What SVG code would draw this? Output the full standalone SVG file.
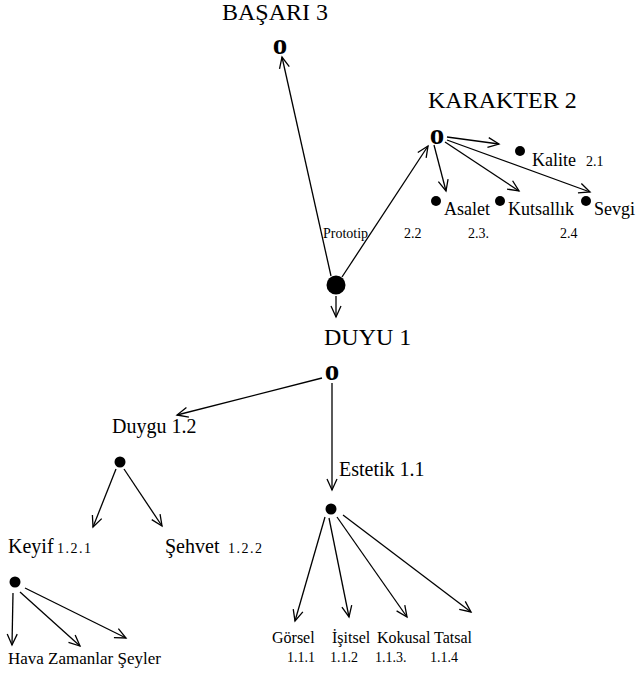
<svg xmlns="http://www.w3.org/2000/svg" width="644" height="674" viewBox="0 0 644 674">
<style>
.h{font-size:24px}
.m{font-size:20px}
.l{font-size:18px}
.s{font-size:14px}
.t{font-size:16px}
.o{font-size:29px;font-weight:bold;text-anchor:middle}
.c line{stroke:#000;stroke-width:1.3;marker-end:url(#a)}
</style>
<defs>
<marker id="a" markerUnits="userSpaceOnUse" markerWidth="14" markerHeight="12" viewBox="-12 -6 14 12" refX="0" refY="0" orient="auto">
<path d="M-11,-5 L0,0 L-11,5" fill="none" stroke="#000" stroke-width="1.3"/>
</marker>
</defs>
<rect width="644" height="674" fill="#fff"/>
<g class="c" id="connectors">
<line x1="331" y1="276" x2="282" y2="57"/>
<line x1="342" y1="277" x2="428" y2="146"/>
<line x1="336" y1="296" x2="336" y2="317"/>
<line x1="447" y1="137" x2="499" y2="144"/>
<line x1="434" y1="145" x2="446" y2="191"/>
<line x1="445" y1="142" x2="519" y2="191"/>
<line x1="447" y1="140" x2="590" y2="192"/>
<line x1="322" y1="378" x2="177" y2="415"/>
<line x1="332" y1="383" x2="332" y2="490"/>
<line x1="116" y1="469" x2="93" y2="527"/>
<line x1="124" y1="469" x2="162" y2="526"/>
<line x1="325" y1="517" x2="295" y2="621"/>
<line x1="329" y1="518" x2="349" y2="617"/>
<line x1="337" y1="517" x2="407" y2="617"/>
<line x1="343" y1="515" x2="471" y2="612"/>
<line x1="13" y1="593" x2="12" y2="645"/>
<line x1="20" y1="592" x2="80" y2="646"/>
<line x1="25" y1="588" x2="126" y2="638"/>
</g>
<g font-family="'Liberation Serif', 'DejaVu Serif', serif" fill="#000">
<g id="basari"><text class="h" x="222" y="20">BAŞARI 3</text><text class="o" x="280" y="54">o</text></g>
<g id="karakter"><text class="h" x="428" y="108">KARAKTER 2</text><text class="o" x="437" y="144">o</text></g>
<g id="prototip"><circle cx="336" cy="285" r="9.5"/><text class="s" x="323" y="238">Prototip</text></g>
<g id="kalite"><circle cx="520" cy="151" r="5"/><text class="l" x="532" y="166">Kalite</text><text class="s" x="586" y="166">2.1</text></g>
<g id="asalet"><circle cx="436" cy="201" r="5"/><text class="l" x="444" y="215">Asalet</text><text class="s" x="404" y="238">2.2</text></g>
<g id="kutsallik"><circle cx="500" cy="201" r="5"/><text class="l" x="508" y="215">Kutsallık</text><text class="s" x="468" y="238">2.3.</text></g>
<g id="sevgi"><circle cx="586" cy="201" r="5"/><text class="l" x="594" y="215">Sevgi</text><text class="s" x="560" y="238">2.4</text></g>
<g id="duyu"><text class="h" x="324" y="345">DUYU 1</text><text class="o" x="332" y="380">o</text></g>
<g id="duygu"><text class="m" x="112" y="433">Duygu 1.2</text><circle cx="120" cy="462" r="5.5"/></g>
<g id="estetik"><text class="m" x="339" y="476">Estetik 1.1</text><circle cx="331" cy="509" r="5.5"/></g>
<g id="keyif"><text class="m" x="8" y="553">Keyif</text><text class="s" x="57" y="553" letter-spacing="1.5">1.2.1</text><circle cx="15" cy="582" r="5.5"/></g>
<g id="sehvet"><text class="m" x="165" y="553">Şehvet</text><text class="s" x="228" y="553" letter-spacing="1.5">1.2.2</text></g>
<g id="keyif-children"><text x="8" y="664" font-size="17">Hava Zamanlar Şeyler</text></g>
<g id="gorsel"><text class="t" x="272" y="643">Görsel</text><text class="s" x="287" y="662">1.1.1</text></g>
<g id="isitsel"><text class="t" x="332" y="643">İşitsel</text><text class="s" x="330" y="662">1.1.2</text></g>
<g id="kokusal"><text class="t" x="377" y="643">Kokusal</text><text class="s" x="375" y="662">1.1.3.</text></g>
<g id="tatsal"><text class="t" x="434" y="643">Tatsal</text><text class="s" x="430" y="662">1.1.4</text></g>
</g>
</svg>
